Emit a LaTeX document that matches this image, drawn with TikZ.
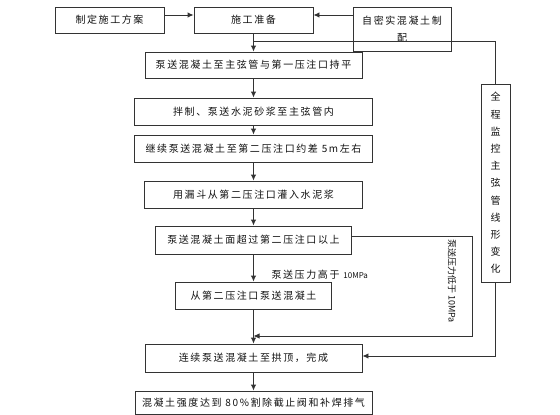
\documentclass[tikz,border=0pt]{standalone}
\usepackage{fontspec}
\setmainfont{Noto Sans CJK SC}[LetterSpace=16]
\newfontfamily\plainfont{Noto Sans CJK SC}
\usetikzlibrary{arrows.meta,calc}
\definecolor{ln}{HTML}{333333}
\definecolor{tx}{HTML}{111111}
\begin{document}
\begin{tikzpicture}[x=1pt,y=-1pt,
  box/.style={draw=ln,line width=0.9pt,rectangle,inner sep=0pt,text=tx,
    font=\fontsize{10}{11}\selectfont,align=center},
  arr/.style={draw=ln,line width=0.9pt,-{Latex[length=6pt,width=5.5pt]}},
  ln/.style={draw=ln,line width=0.9pt}]
\useasboundingbox (0,0) rectangle (560,415);
\node[box,minimum width=109pt,minimum height=26pt] (A) at (109.5,20) {制定施工方案};
\node[box,minimum width=119pt,minimum height=26pt] (B) at (253.5,20) {施工准备};
\node[box,minimum width=98pt,minimum height=44pt,font=\fontsize{10}{17}\selectfont] (C) at (402,29) {自密实混凝土制\\配};
\node[box,minimum width=217pt,minimum height=26pt] (E1) at (253.5,65) {泵送混凝土至主弦管与第一压注口持平};
\node[box,minimum width=238pt,minimum height=27pt] (E2) at (253.5,111.5) {拌制、泵送水泥砂浆至主弦管内};
\node[box,minimum width=238pt,minimum height=27pt] (E3) at (253.5,148.5) {继续泵送混凝土至第二压注口约差 5m左右};
\node[box,minimum width=218pt,minimum height=27pt] (E4) at (253.5,194.5) {用漏斗从第二压注口灌入水泥浆};
\node[box,minimum width=196pt,minimum height=28pt] (E5) at (253.5,240) {泵送混凝土面超过第二压注口以上};
\node[box,minimum width=156pt,minimum height=27pt] (E6) at (253.5,295.5) {从第二压注口泵送混凝土};
\node[box,minimum width=217pt,minimum height=28pt] (E7) at (253.5,358) {连续泵送混凝土至拱顶，完成};
\node[box,minimum width=237pt,minimum height=23pt] (E8) at (253.5,402.5) {混凝土强度达到 80\%割除截止阀和补焊排气};
\node[box,minimum width=29pt,minimum height=198pt,font=\fontsize{10}{17.2}\selectfont] (D) at (495.5,183) {全\\程\\监\\控\\主\\弦\\管\\线\\形\\变\\化};
\node[text=tx,font=\fontsize{10}{11}\selectfont,anchor=west] (L1) at (268,275) {泵送压力高于 {\plainfont\fontsize{8}{10}\selectfont 10MPa}};
\node[text=tx,font=\plainfont\fontsize{9}{11}\selectfont,rotate=-90] (L2) at (452,281) {泵送压力低于 10MPa};
% connectors
\draw[arr] ([yshift=5pt]A.east) -- ([yshift=5pt]B.west);
\draw[arr] ([yshift=14pt]C.west) -- ([yshift=14pt]C.west -| B.east);
\draw[arr] (B.south) -- (E1.north);
\coordinate (br) at (253.5,41);
\draw[ln] (br) -| (D.north);
\draw[arr] (E1.south) -- (E2.north);
\draw[arr] (E2.south) -- (E3.north);
\draw[arr] (E3.south) -- (E4.north);
\draw[arr] (E4.south) -- (E5.north);
\draw[arr] (E5.south) -- (E6.north);
\draw[arr] (E6.south) -- (E7.north);
\draw[arr] (E7.south) -- (E8.north);
\coordinate (rc) at (472,336);
\draw[arr] ([yshift=4pt]E5.east) -| (rc) -- (rc -| E6.south);
\draw[arr] (D.south) |- ([yshift=2pt]E7.east);
\end{tikzpicture}
\end{document}
